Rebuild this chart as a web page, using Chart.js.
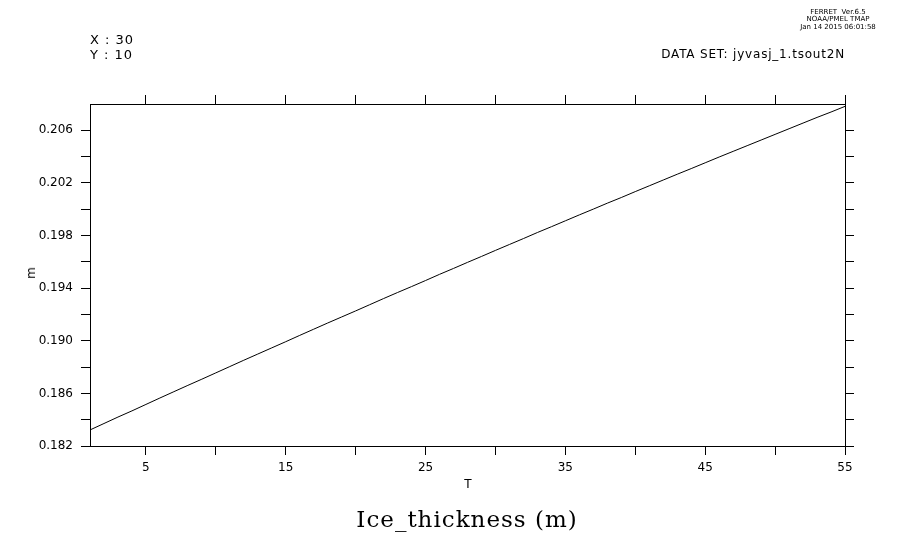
<!DOCTYPE html>
<html>
<head>
<meta charset="utf-8">
<script src="https://cdn.jsdelivr.net/npm/chart.js@4.4.1/dist/chart.umd.min.js"></script>
<style>
  html, body { margin: 0; padding: 0; background: #fff; }
  #wrap { position: relative; width: 921px; height: 552px; overflow: hidden; background: #fff; }
  #c { position: absolute; left: 0; top: 0; }
  .t { position: absolute; color: #000; white-space: pre; line-height: 1; }
  .sans { font-family: "DejaVu Sans", sans-serif; }
  .c { transform: translate(-50%, -50%); }
</style>
</head>
<body>
<div id="wrap">
  <canvas id="c" width="921" height="552"></canvas>
  <div class="t sans" style="left:90px; top:33px; font-size:13px; letter-spacing:1px;">X : 30</div>
  <div class="t sans" style="left:90px; top:48px; font-size:13px; letter-spacing:1px;">Y : 10</div>
  <div class="t sans" style="right:76px; top:48px; font-size:12px; letter-spacing:0.8px;">DATA SET: jyvasj_1.tsout2N</div>
  <div class="t sans c" style="left:838px; top:12px; font-size:7px;">FERRET  Ver.6.5</div>
  <div class="t sans c" style="left:838px; top:19px; font-size:7px;">NOAA/PMEL TMAP</div>
  <div class="t sans c" style="left:838px; top:27px; font-size:7px;">Jan 14 2015 06:01:58</div>
  <div class="t sans c" style="left:468px; top:484px; font-size:12px;">T</div>
  <div class="t sans c" style="left:31px; top:273px; font-size:12px; transform: translate(-50%,-50%) rotate(-90deg);">m</div>
  <div class="t c" style="left:467px; top:519px; font-size:23px; letter-spacing:1px; font-family:'DejaVu Serif', serif;">Ice_thickness (m)</div>
</div>
<script>
// ---- Data ----
const tValues = [1,2,3,4,5,6,7,8,9,10,11,12,13,14,15,16,17,18,19,20,21,22,23,24,25,26,27,28,29,30,
  31,32,33,34,35,36,37,38,39,40,41,42,43,44,45,46,47,48,49,50,51,52,53,54,55];
const iceThickness = [0.18322,0.18371,0.18420,0.18467,0.18516,0.18565,0.18613,0.18661,0.18708,0.18756,
  0.18804,0.18852,0.18899,0.18946,0.18993,0.19041,0.19088,0.19135,0.19181,0.19227,
  0.19274,0.19321,0.19367,0.19412,0.19458,0.19505,0.19550,0.19596,0.19641,0.19687,
  0.19732,0.19777,0.19823,0.19867,0.19912,0.19957,0.20001,0.20046,0.20089,0.20134,
  0.20178,0.20222,0.20266,0.20309,0.20353,0.20397,0.20440,0.20483,0.20526,0.20569,
  0.20612,0.20655,0.20698,0.20739,0.20782];
const xTicks = [5,10,15,20,25,30,35,40,45,50,55];
const xTickLabels = ['5','15','25','35','45','55'];
const yTicks = [0.182,0.184,0.186,0.188,0.190,0.192,0.194,0.196,0.198,0.200,0.202,0.204,0.206];
const yTickLabels = ['0.182','0.186','0.190','0.194','0.198','0.202','0.206'];

const points = tValues.map((t, i) => ({x: t, y: iceThickness[i]}));

const tickFont = {family: 'DejaVu Sans', size: 12};
function xLabel(v) {
  const s = String(Math.round(v));
  return xTickLabels.includes(s) ? s : '';
}
function yLabel(v) {
  const f = yTickLabels.find(l => Math.abs(parseFloat(l) - v) < 1e-9);
  return f ? f : '';
}
function axisGrid() {
  return {drawOnChartArea: false, drawTicks: true, tickLength: 9, color: '#000', tickColor: '#000', lineWidth: 1};
}
const border = {display: true, color: '#000', width: 1};

new Chart(document.getElementById('c'), {
  type: 'line',
  data: {
    datasets: [{
      data: points,
      borderColor: '#000',
      borderWidth: 1,
      pointRadius: 0,
      tension: 0,
      fill: false
    }]
  },
  options: {
    responsive: false,
    animation: false,
    layout: {padding: 0},
    plugins: {legend: {display: false}, tooltip: {enabled: false}, title: {display: false}},
    scales: {
      x: {
        type: 'linear', position: 'bottom', min: 1, max: 55,
        afterBuildTicks: s => { s.ticks = xTicks.map(v => ({value: v})); },
        afterFit: s => { s.height = 106; },
        ticks: {callback: v => xLabel(v), font: tickFont, color: '#000', padding: 6, maxRotation: 0, autoSkip: false},
        grid: axisGrid(), border: border
      },
      x2: {
        type: 'linear', position: 'top', min: 1, max: 55,
        afterBuildTicks: s => { s.ticks = xTicks.map(v => ({value: v})); },
        afterFit: s => { s.height = 104; },
        ticks: {display: false},
        grid: axisGrid(), border: border
      },
      y: {
        type: 'linear', position: 'left', min: 0.182, max: 0.208,
        afterBuildTicks: s => { s.ticks = yTicks.map(v => ({value: v})); },
        afterFit: s => { s.width = 90; },
        ticks: {callback: v => yLabel(v), font: tickFont, color: '#000', padding: 8, autoSkip: false},
        grid: axisGrid(), border: border
      },
      y2: {
        type: 'linear', position: 'right', min: 0.182, max: 0.208,
        afterBuildTicks: s => { s.ticks = yTicks.map(v => ({value: v})); },
        afterFit: s => { s.width = 76; },
        ticks: {display: false},
        grid: axisGrid(), border: border
      }
    }
  }
});
</script>
</body>
</html>
